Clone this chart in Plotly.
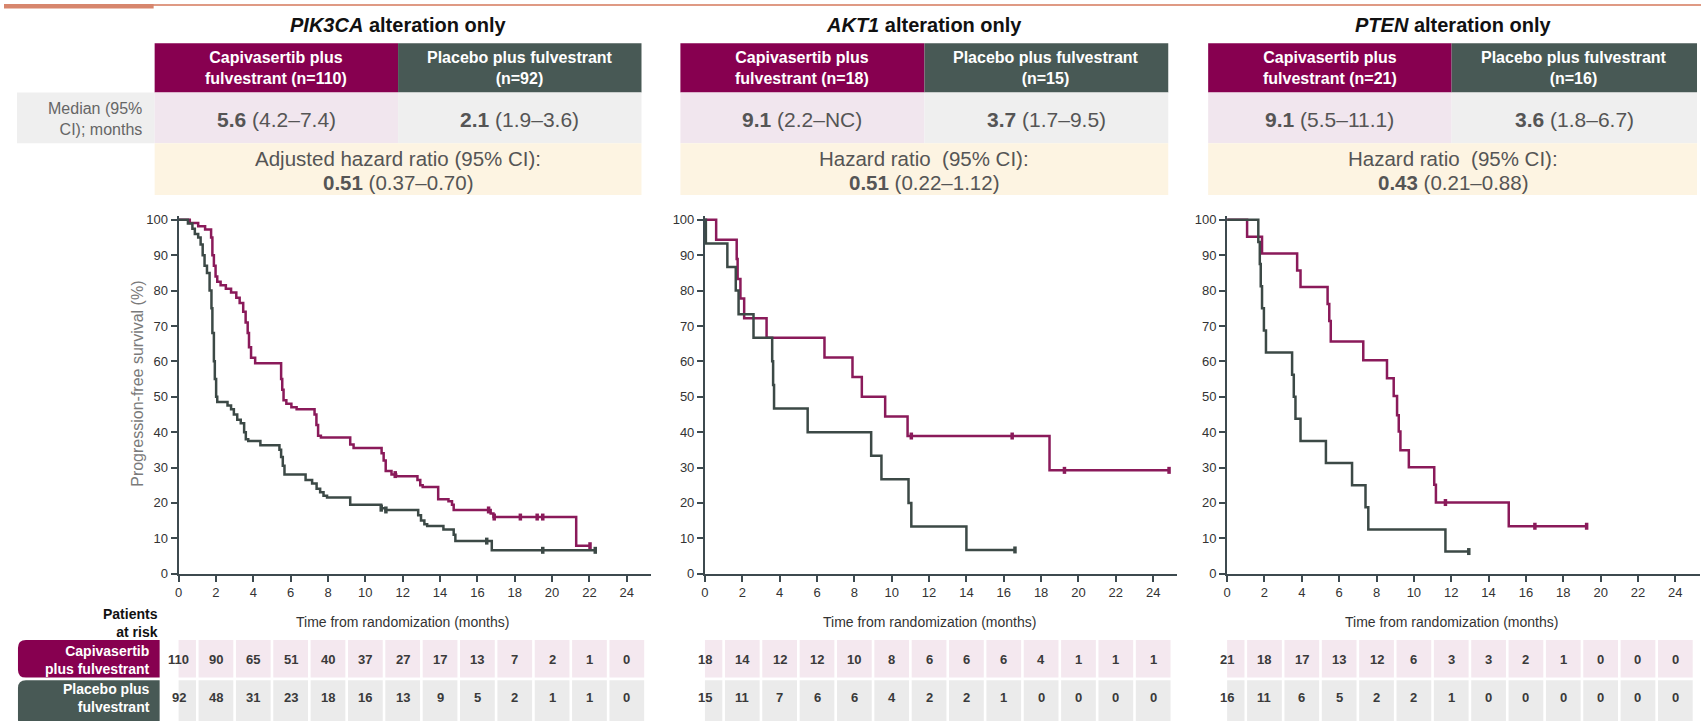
import plotly.graph_objects as go

W, H = 1701, 721
FONT = "Liberation Sans, Arial, sans-serif"

MAGENTA = "#870050"
SLATE = "#485955"
LINE_MAG = "#8a1a5a"
LINE_GREY = "#3c4946"
AXIS = "#3d4a4f"

# ---------------------------------------------------------------- data
months = [0, 2, 4, 6, 8, 10, 12, 14, 16, 18, 20, 22, 24]
y_ticks = [0, 10, 20, 30, 40, 50, 60, 70, 80, 90, 100]

panel_titles = ["<b><i>PIK3CA</i> alteration only</b>",
                "<b><i>AKT1</i> alteration only</b>",
                "<b><i>PTEN</i> alteration only</b>"]
capi_n = [110, 18, 21]
pbo_n = [92, 15, 16]
capi_median = ["<b>5.6</b> (4.2–7.4)", "<b>9.1</b> (2.2–NC)", "<b>9.1</b> (5.5–11.1)"]
pbo_median = ["<b>2.1</b> (1.9–3.6)", "<b>3.7</b> (1.7–9.5)", "<b>3.6</b> (1.8–6.7)"]
hr_label = ["Adjusted hazard ratio (95% CI):",
            "Hazard ratio \u00a0(95% CI):",
            "Hazard ratio \u00a0(95% CI):"]
hr_value = ["<b>0.51</b> (0.37–0.70)", "<b>0.51</b> (0.22–1.12)", "<b>0.43</b> (0.21–0.88)"]

# PIK3CA – Kaplan–Meier steps (months, PFS %)
pik3ca_capi_t = [0, 0.6, 1.05, 1.42, 1.74, 1.81, 1.89, 1.98, 2.07, 2.25, 2.53, 2.81, 3.09,
                 3.27, 3.46, 3.59, 3.7, 3.77, 3.88, 4.1, 5.49, 5.55, 5.62, 5.77, 6.04, 6.32,
                 7.28, 7.38, 7.47, 7.62, 9.19, 9.37, 10.87, 10.98, 11.09, 11.4, 11.65, 12.79,
                 12.94, 13.07, 13.9, 14.45, 14.64, 14.73, 16.71, 16.86, 21.29]
pik3ca_capi_s = [100, 99.1, 98.2, 97.3, 95, 90, 87, 84, 82.5, 81.5, 80.5, 79.5, 78,
                 76.5, 74, 71, 68, 64, 61, 59.5, 55, 52, 49, 48, 47, 46.5,
                 45, 42, 39, 38.5, 36.5, 35.5, 34, 32, 29, 28, 27.5, 26.5,
                 25, 24.5, 21, 20.5, 19.5, 18, 17, 16, 7.9]
pik3ca_capi_cens = [11.6, 16.6, 16.9, 18.3, 19.2, 19.5, 22.03]

pik3ca_pbo_t = [0, 0.5, 0.74, 0.87, 1.05, 1.18, 1.29, 1.39, 1.52, 1.66, 1.76, 1.81, 1.89,
                1.94, 2.01, 2.07, 2.62, 2.81, 2.96, 3.14, 3.33, 3.51, 3.6, 3.73, 4.38, 5.4,
                5.49, 5.58, 5.67, 6.8, 7.15, 7.39, 7.58, 7.76, 7.95, 9.19, 10.85, 11.09,
                12.83, 12.98, 13.16, 13.31, 14.18, 14.73, 14.82, 16.77]
pik3ca_pbo_s = [100, 99, 97.5, 96, 95, 93, 90, 87, 85, 80, 75, 68, 60,
                55, 50, 48.5, 47.5, 46.5, 45, 43.5, 42.5, 40, 38, 37.5, 36.3, 35,
                33, 30.5, 28, 26.5, 25.5, 24, 23, 22, 21.5, 19.5, 18.5, 18,
                16.5, 15, 14, 13.5, 12.5, 11, 9.2, 6.6]
pik3ca_pbo_cens = [10.85, 11.1, 16.5, 19.5, 22.31]

# AKT1
akt1_capi_t = [0, 0.6, 1.7, 1.75, 1.9, 2.1, 3.3, 6.4, 7.9, 8.4, 9.65, 10.85, 18.45]
akt1_capi_s = [100, 94.4, 88.9, 83.3, 77.8, 72.2, 66.7, 61.1, 55.6, 50.0, 44.4, 38.9, 29.2]
akt1_capi_cens = [11.05, 16.45, 19.25, 24.85]

akt1_pbo_t = [0, 0.05, 1.2, 1.65, 1.8, 2.6, 3.6, 3.65, 3.7, 5.5, 8.9, 9.45, 10.9, 11.05, 14.0]
akt1_pbo_s = [100, 93.3, 86.7, 80.0, 73.3, 66.7, 60.0, 53.3, 46.7, 40.0, 33.3, 26.7, 20.0, 13.3, 6.7]
akt1_pbo_cens = [16.6]

# PTEN
pten_capi_t = [0, 1.07, 1.87, 3.75, 3.93, 5.38, 5.47, 5.55, 7.29, 8.56, 8.92, 9.1, 9.19,
               9.28, 9.73, 11.09, 11.18, 15.08]
pten_capi_s = [100, 95.2, 90.5, 85.7, 81.0, 76.2, 71.4, 65.6, 60.3, 55.2, 50.2, 44.8, 40.2,
               34.9, 30.1, 25.1, 20.1, 13.4]
pten_capi_cens = [11.69, 16.48, 19.25]

pten_pbo_t = [0, 1.67, 1.75, 1.8, 1.87, 1.97, 2.08, 3.48, 3.57, 3.66, 3.93, 5.29, 6.69,
              7.41, 7.56, 11.69]
pten_pbo_s = [100, 93.75, 87.5, 81.25, 75, 68.75, 62.5, 56.25, 50, 43.75, 37.5, 31.25, 25,
              18.75, 12.5, 6.25]
pten_pbo_cens = [12.94]

# Patients at risk at each 2-month mark
pik3ca_risk_capi = [110, 90, 65, 51, 40, 37, 27, 17, 13, 7, 2, 1, 0]
pik3ca_risk_pbo = [92, 48, 31, 23, 18, 16, 13, 9, 5, 2, 1, 1, 0]
akt1_risk_capi = [18, 14, 12, 12, 10, 8, 6, 6, 6, 4, 1, 1, 1]
akt1_risk_pbo = [15, 11, 7, 6, 6, 4, 2, 2, 1, 0, 0, 0, 0]
pten_risk_capi = [21, 18, 17, 13, 12, 6, 3, 3, 2, 1, 0, 0, 0]
pten_risk_pbo = [16, 11, 6, 5, 2, 2, 1, 0, 0, 0, 0, 0, 0]

# ---------------------------------------------------------------- helpers
def px(x):
    return x / W


def py(y):
    return 1 - y / H


def surv_at(t, times, surv):
    val = surv[0]
    for ti, si in zip(times, surv):
        if ti <= t:
            val = si
    return val


curves = [
    (pik3ca_capi_t, pik3ca_capi_s, pik3ca_capi_cens, pik3ca_pbo_t, pik3ca_pbo_s, pik3ca_pbo_cens),
    (akt1_capi_t, akt1_capi_s, akt1_capi_cens, akt1_pbo_t, akt1_pbo_s, akt1_pbo_cens),
    (pten_capi_t, pten_capi_s, pten_capi_cens, pten_pbo_t, pten_pbo_s, pten_pbo_cens),
]
risks = [
    (pik3ca_risk_capi, pik3ca_risk_pbo),
    (akt1_risk_capi, akt1_risk_pbo),
    (pten_risk_capi, pten_risk_pbo),
]

# panel geometry (pixels): x of time 0, axis end in months, header column edges
PPM = 18.72
geo = [
    dict(x0=175.0, xmax=25.3, head=(151, 395, 639)),
    dict(x0=702.6, xmax=25.3, head=(678, 922.6, 1167)),
    dict(x0=1226.0, xmax=25.3, head=(1207, 1451, 1697)),
]
Y_TOP_PX, Y_BOT_PX, Y_MAX = 219.5, 579.3, 101.0
ppu = (Y_BOT_PX - Y_TOP_PX) / 100.0
y_dom = [py(Y_BOT_PX), py(Y_BOT_PX - Y_MAX * ppu)]

fig = go.Figure()
shapes = []
annots = []
layout_axes = {}


def add_text(x, y, text, size, color="#555555", xanchor="center", xref="paper", **kw):
    annots.append(dict(x=x, y=y, xref=xref, yref="paper", text=text, showarrow=False,
                       xanchor=xanchor, yanchor="middle",
                       font=dict(family=FONT, size=size, color=color), **kw))


def add_rect(x0, x1, y0, y1, color, xref="paper"):
    """Rectangle; x in pixels for paper refs, in data units otherwise; y in pixels."""
    if xref == "paper":
        x0, x1 = px(x0), px(x1)
    shapes.append(dict(type="rect", xref=xref, yref="paper", x0=x0, x1=x1,
                       y0=py(y1), y1=py(y0), fillcolor=color, line=dict(width=0),
                       layer="below"))


def add_rounded_left(x0, x1, y0, y1, color, r=8):
    rx, ry = r / W, r / H
    X0, X1, T, B = px(x0), px(x1), py(y0), py(y1)
    path = (f"M {X0 + rx},{T} L {X1},{T} L {X1},{B} L {X0 + rx},{B} "
            f"Q {X0},{B} {X0},{B + ry} L {X0},{T - ry} Q {X0},{T} {X0 + rx},{T} Z")
    shapes.append(dict(type="path", xref="paper", yref="paper", path=path,
                       fillcolor=color, line=dict(width=0), layer="below"))


# decorative rule along the top edge
add_rect(0, W, 0, 2, "#df9a84")
add_rect(0, 150, 0, 4.5, "#d7866d")

# row label of the median row
add_rect(13, 151, 90, 141.7, "#efefef")
add_text(px(140), py(117), "Median (95%<br>CI); months", 16, color="#666666", xanchor="right",
         align="right")

# patients at risk labels
add_text(px(156), py(629), "<b>Patients<br>at risk</b>", 14, color="#111111", xanchor="right",
         align="right")
add_rounded_left(14, 156, 646.7, 685, MAGENTA)
add_rounded_left(14, 156, 687.7, 735, SLATE)
add_text(px(148), py(666.7), "<b>Capivasertib<br>plus fulvestrant</b>", 14, color="white",
         xanchor="right", align="right")
add_text(px(148), py(706), "<b>Placebo plus<br>fulvestrant</b>", 14, color="white",
         xanchor="right", align="right")

for i, g in enumerate(geo):
    sfx = "" if i == 0 else str(i + 1)
    xname, yname = "x" + sfx, "y" + sfx
    h0, h1, h2 = g["head"]
    cx = (h0 + h2) / 2

    # header table
    add_text(px(cx), py(21.5), panel_titles[i], 20, color="#111111")
    add_rect(h0, h1, 40, 90, MAGENTA)
    add_rect(h1, h2, 40, 90, SLATE)
    add_rect(h0, h1, 90, 141.7, "#f1e6ee")
    add_rect(h1, h2, 90, 141.7, "#efefef")
    add_rect(h0, h2, 141.7, 194.3, "#fdf4e2")
    add_text(px((h0 + h1) / 2), py(65.5),
             f"<b>Capivasertib plus<br>fulvestrant (n={capi_n[i]})</b>", 16, color="white")
    add_text(px((h1 + h2) / 2), py(65.5),
             f"<b>Placebo plus fulvestrant<br>(n={pbo_n[i]})</b>", 16, color="white")
    add_text(px((h0 + h1) / 2), py(117), capi_median[i], 21, color="#555555")
    add_text(px((h1 + h2) / 2), py(117), pbo_median[i], 21, color="#555555")
    add_text(px(cx), py(157), hr_label[i], 20.5, color="#555555")
    add_text(px(cx), py(181.5), hr_value[i], 20.5, color="#555555")

    # axes
    x_end_px = g["x0"] + g["xmax"] * PPM
    layout_axes["xaxis" + sfx] = dict(
        domain=[px(g["x0"]), px(x_end_px)], range=[0, g["xmax"]], anchor=yname,
        tickvals=months, ticks="outside", ticklen=6, tickwidth=2, tickcolor=AXIS,
        showline=True, linecolor=AXIS, linewidth=2, showgrid=False, zeroline=False,
        tickfont=dict(family=FONT, size=13, color="#333333"), fixedrange=True)
    layout_axes["yaxis" + sfx] = dict(
        domain=y_dom, range=[0, Y_MAX], anchor=xname,
        tickvals=y_ticks, ticks="outside", ticklen=6, tickwidth=2, tickcolor=AXIS,
        showline=True, linecolor=AXIS, linewidth=2, showgrid=False, zeroline=False,
        tickfont=dict(family=FONT, size=13, color="#333333"), fixedrange=True)

    add_text(12, py(628.3), "Time from randomization (months)", 14, color="#333333", xref=xname)

    # Kaplan–Meier curves with censor ticks
    ct, cs, cc, pt, ps, pc = curves[i]
    for t, s, cens, col in ((ct, cs, cc, LINE_MAG), (pt, ps, pc, LINE_GREY)):
        xs = list(t) + [max(cens[-1], t[-1])]
        ys = list(s) + [s[-1]]
        fig.add_trace(go.Scatter(x=xs, y=ys, mode="lines", line=dict(color=col, width=2.5, shape="hv"),
                                 xaxis=xname, yaxis=yname, showlegend=False, hoverinfo="skip"))
        fig.add_trace(go.Scatter(x=cens, y=[surv_at(c, t, s) for c in cens], mode="markers",
                                 marker=dict(symbol="line-ns", size=5,
                                             line=dict(color=col, width=3.5)),
                                 cliponaxis=False, xaxis=xname, yaxis=yname,
                                 showlegend=False, hoverinfo="skip"))

    # risk table
    rc, rp = risks[i]
    for m, a, b in zip(months, rc, rp):
        add_rect(m - 0.93, m + 0.93, 646.7, 685, "#f4e8ef", xref=xname)
        add_rect(m - 0.93, m + 0.93, 687.7, 735, "#ebebeb", xref=xname)
        add_text(m, py(666.7), f"<b>{a}</b>", 13, color="#3a3a3a", xref=xname)
        add_text(m, py(705.7), f"<b>{b}</b>", 13, color="#3a3a3a", xref=xname)

# y-axis title on the first panel
annots.append(dict(x=px(123), y=py(386), xref="paper", yref="paper", showarrow=False,
                   text="Progression-free survival (%)", textangle=-90,
                   font=dict(family=FONT, size=16, color="#7a7a7a")))

fig.update_layout(width=W, height=H, margin=dict(l=0, r=0, t=0, b=0),
                  paper_bgcolor="white", plot_bgcolor="white",
                  shapes=shapes, annotations=annots, **layout_axes)

fig.write_html("out.html", config=dict(displayModeBar=False))
